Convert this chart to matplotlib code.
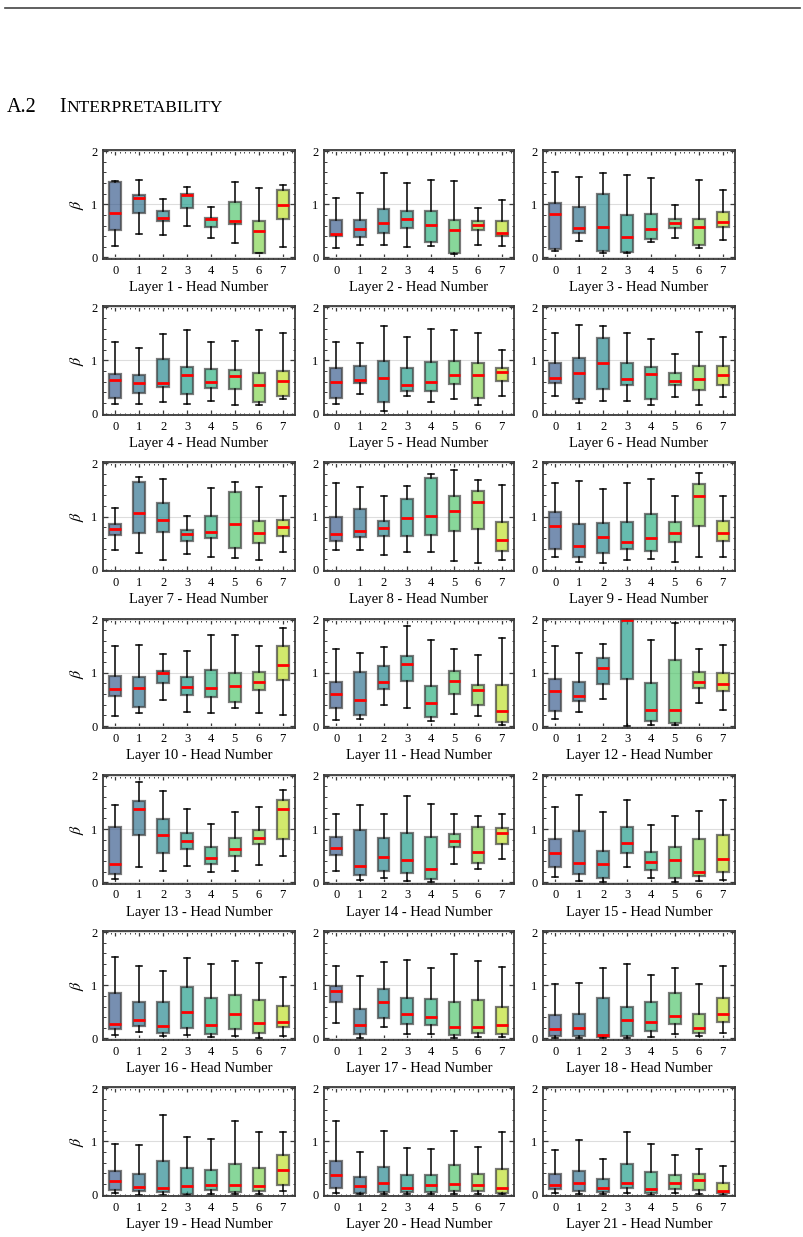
import numpy as np
import matplotlib
matplotlib.use("Agg")
import matplotlib.pyplot as plt
from matplotlib.ticker import MultipleLocator
from matplotlib.lines import Line2D

heads = [0, 1, 2, 3, 4, 5, 6, 7]
layers = list(range(1, 22))

whislo = [
    [0.22, 0.44, 0.43, 0.60, 0.37, 0.28, 0.08, 0.19],
    [0.18, 0.24, 0.23, 0.19, 0.21, 0.06, 0.24, 0.21],
    [0.12, 0.31, 0.09, 0.08, 0.29, 0.36, 0.17, 0.33],
    [0.19, 0.19, 0.21, 0.19, 0.23, 0.16, 0.16, 0.28],
    [0.19, 0.36, 0.04, 0.33, 0.21, 0.27, 0.16, 0.33],
    [0.33, 0.20, 0.24, 0.24, 0.16, 0.31, 0.16, 0.31],
    [0.38, 0.31, 0.19, 0.29, 0.24, 0.23, 0.19, 0.33],
    [0.37, 0.38, 0.27, 0.33, 0.33, 0.16, 0.13, 0.18],
    [0.24, 0.14, 0.13, 0.19, 0.21, 0.15, 0.25, 0.24],
    [0.18, 0.24, 0.48, 0.27, 0.24, 0.34, 0.24, 0.20],
    [0.11, 0.13, 0.39, 0.34, 0.09, 0.22, 0.19, 0.01],
    [0.13, 0.27, 0.51, 0.00, 0.01, 0.01, 0.43, 0.30],
    [0.06, 0.29, 0.21, 0.31, 0.19, 0.22, 0.32, 0.50],
    [0.22, 0.04, 0.07, 0.02, 0.01, 0.35, 0.24, 0.44],
    [0.10, 0.02, 0.00, 0.29, 0.08, 0.01, 0.03, 0.05],
    [0.06, 0.12, 0.04, 0.06, 0.03, 0.05, 0.01, 0.04],
    [0.29, 0.01, 0.22, 0.08, 0.08, 0.01, 0.03, 0.02],
    [0.01, 0.01, 0.00, 0.01, 0.03, 0.09, 0.04, 0.11],
    [0.03, 0.00, 0.00, 0.00, 0.02, 0.01, 0.01, 0.06],
    [0.03, 0.01, 0.01, 0.01, 0.01, 0.01, 0.01, 0.01],
    [0.03, 0.01, 0.01, 0.03, 0.00, 0.03, 0.01, 0.00],
]
q1 = [
    [0.51, 0.83, 0.68, 0.92, 0.57, 0.63, 0.08, 0.73],
    [0.40, 0.38, 0.46, 0.56, 0.29, 0.08, 0.51, 0.40],
    [0.16, 0.46, 0.12, 0.11, 0.34, 0.55, 0.24, 0.58],
    [0.29, 0.38, 0.50, 0.36, 0.48, 0.46, 0.22, 0.33],
    [0.29, 0.57, 0.21, 0.42, 0.42, 0.55, 0.30, 0.62],
    [0.57, 0.27, 0.46, 0.53, 0.27, 0.53, 0.45, 0.53],
    [0.65, 0.69, 0.71, 0.55, 0.59, 0.41, 0.51, 0.64],
    [0.54, 0.61, 0.63, 0.64, 0.65, 0.73, 0.76, 0.35],
    [0.39, 0.24, 0.32, 0.39, 0.36, 0.52, 0.82, 0.55],
    [0.56, 0.36, 0.81, 0.58, 0.55, 0.45, 0.68, 0.87],
    [0.33, 0.20, 0.69, 0.85, 0.17, 0.61, 0.39, 0.08],
    [0.29, 0.47, 0.79, 0.89, 0.10, 0.05, 0.71, 0.66],
    [0.15, 0.88, 0.54, 0.63, 0.35, 0.50, 0.71, 0.82],
    [0.52, 0.14, 0.22, 0.17, 0.06, 0.66, 0.36, 0.72],
    [0.28, 0.15, 0.08, 0.54, 0.23, 0.08, 0.12, 0.20],
    [0.17, 0.24, 0.10, 0.19, 0.08, 0.18, 0.10, 0.22],
    [0.68, 0.09, 0.38, 0.27, 0.25, 0.06, 0.10, 0.08],
    [0.04, 0.04, 0.03, 0.05, 0.14, 0.28, 0.10, 0.31],
    [0.08, 0.07, 0.05, 0.02, 0.08, 0.04, 0.06, 0.18],
    [0.13, 0.03, 0.05, 0.05, 0.05, 0.06, 0.07, 0.03],
    [0.10, 0.07, 0.04, 0.13, 0.03, 0.11, 0.08, 0.03],
]
med = [
    [0.84, 1.12, 0.74, 1.18, 0.73, 0.69, 0.50, 0.99],
    [0.44, 0.53, 0.65, 0.73, 0.61, 0.51, 0.61, 0.45],
    [0.82, 0.55, 0.57, 0.38, 0.54, 0.65, 0.58, 0.66],
    [0.64, 0.57, 0.58, 0.72, 0.60, 0.71, 0.54, 0.61],
    [0.60, 0.64, 0.67, 0.53, 0.60, 0.72, 0.72, 0.78],
    [0.67, 0.76, 0.95, 0.65, 0.75, 0.62, 0.65, 0.72],
    [0.76, 1.06, 0.94, 0.68, 0.71, 0.87, 0.69, 0.80],
    [0.68, 0.73, 0.78, 0.97, 1.02, 1.11, 1.27, 0.56],
    [0.82, 0.45, 0.62, 0.53, 0.60, 0.70, 1.39, 0.69],
    [0.70, 0.71, 0.99, 0.73, 0.71, 0.76, 0.83, 1.14],
    [0.61, 0.49, 0.82, 1.17, 0.44, 0.84, 0.68, 0.28],
    [0.66, 0.57, 1.10, 1.995, 0.31, 0.30, 0.82, 0.79],
    [0.34, 1.38, 0.88, 0.77, 0.46, 0.62, 0.83, 1.38],
    [0.64, 0.31, 0.47, 0.41, 0.24, 0.78, 0.56, 0.93],
    [0.54, 0.36, 0.34, 0.73, 0.38, 0.42, 0.20, 0.43],
    [0.27, 0.34, 0.24, 0.49, 0.26, 0.46, 0.29, 0.31],
    [0.90, 0.25, 0.69, 0.46, 0.40, 0.22, 0.22, 0.25],
    [0.17, 0.20, 0.07, 0.34, 0.30, 0.43, 0.20, 0.45],
    [0.26, 0.15, 0.13, 0.16, 0.18, 0.18, 0.17, 0.47],
    [0.36, 0.17, 0.21, 0.13, 0.18, 0.20, 0.18, 0.13],
    [0.19, 0.22, 0.13, 0.22, 0.11, 0.22, 0.28, 0.06],
]
q3 = [
    [1.41, 1.17, 0.87, 1.19, 0.75, 1.05, 0.69, 1.27],
    [0.70, 0.71, 0.91, 0.88, 0.88, 0.70, 0.68, 0.68],
    [1.03, 0.95, 1.20, 0.80, 0.81, 0.73, 0.72, 0.85],
    [0.75, 0.72, 1.03, 0.87, 0.84, 0.82, 0.76, 0.81],
    [0.86, 0.89, 0.99, 0.86, 0.97, 0.98, 0.96, 0.86],
    [0.95, 1.04, 1.43, 0.96, 0.87, 0.77, 0.89, 0.90],
    [0.87, 1.66, 1.25, 0.75, 1.01, 1.46, 0.92, 0.94],
    [0.99, 1.15, 0.92, 1.34, 1.73, 1.38, 1.48, 0.90],
    [1.09, 0.87, 0.88, 0.89, 1.05, 0.90, 1.61, 0.92],
    [0.94, 0.92, 1.04, 0.92, 1.06, 0.99, 1.02, 1.51],
    [0.83, 1.01, 1.13, 1.32, 0.75, 1.04, 0.78, 0.78],
    [0.88, 0.83, 1.27, 2.00, 0.80, 1.25, 1.02, 1.00],
    [1.04, 1.53, 1.19, 0.93, 0.66, 0.83, 0.99, 1.54],
    [0.85, 0.98, 0.83, 0.92, 0.85, 0.90, 1.04, 1.02],
    [0.82, 0.97, 0.58, 1.04, 0.57, 0.66, 0.82, 0.88],
    [0.85, 0.69, 0.68, 0.96, 0.76, 0.81, 0.72, 0.61],
    [0.99, 0.55, 0.92, 0.76, 0.75, 0.68, 0.73, 0.59],
    [0.44, 0.45, 0.76, 0.59, 0.69, 0.86, 0.46, 0.76],
    [0.44, 0.39, 0.63, 0.50, 0.46, 0.58, 0.50, 0.75],
    [0.63, 0.34, 0.52, 0.37, 0.37, 0.55, 0.39, 0.48],
    [0.39, 0.45, 0.29, 0.57, 0.42, 0.36, 0.38, 0.21],
]
whishi = [
    [1.44, 1.45, 1.09, 1.33, 0.95, 1.42, 1.30, 1.37],
    [1.12, 1.22, 1.59, 1.39, 1.45, 1.44, 0.93, 1.08],
    [1.60, 1.52, 1.59, 1.55, 1.49, 0.98, 1.45, 1.26],
    [1.35, 1.23, 1.50, 1.57, 1.34, 1.37, 1.58, 1.52],
    [1.35, 1.32, 1.64, 1.45, 1.60, 1.57, 1.51, 1.19],
    [1.51, 1.67, 1.64, 1.52, 1.40, 1.13, 1.53, 1.44],
    [1.17, 1.74, 1.70, 1.01, 1.53, 1.66, 1.56, 1.39],
    [1.64, 1.55, 1.38, 1.57, 1.81, 1.87, 1.69, 1.59],
    [1.63, 1.67, 1.52, 1.64, 1.71, 1.38, 1.82, 1.39],
    [1.51, 1.52, 1.36, 1.41, 1.71, 1.72, 1.50, 1.84],
    [1.45, 1.38, 1.49, 1.89, 1.61, 1.45, 1.34, 1.66],
    [1.50, 1.38, 1.54, 2.00, 1.62, 1.94, 1.44, 1.52],
    [1.45, 1.88, 1.71, 1.38, 1.10, 1.32, 1.41, 1.73],
    [1.29, 1.46, 1.29, 1.63, 1.48, 1.29, 1.25, 1.29],
    [1.41, 1.64, 1.32, 1.55, 1.08, 1.24, 1.34, 1.55],
    [1.54, 1.37, 1.27, 1.52, 1.39, 1.46, 1.41, 1.15],
    [1.36, 1.18, 1.43, 1.48, 1.33, 1.58, 1.46, 1.34],
    [1.03, 1.05, 1.33, 1.39, 1.20, 1.32, 1.03, 1.37],
    [0.95, 0.94, 1.50, 1.08, 1.04, 1.38, 1.18, 1.18],
    [1.39, 0.81, 1.20, 0.87, 0.86, 1.20, 0.89, 1.18],
    [0.83, 1.03, 0.67, 1.18, 0.95, 0.74, 0.85, 0.54],
]

plt.rcParams["font.family"] = ["Liberation Serif", "DejaVu Serif"]
plt.rcParams["mathtext.fontset"] = "stix"

W, H = 804, 1237
fig = plt.figure(figsize=(W / 100, H / 100), dpi=100)

col_left = [103, 324, 543]
col_w = [192, 190, 192]
row_top0 = 150
row_step = 156.2
ax_h = 109

base = plt.cm.viridis(np.linspace(0.28, 0.9, 8))
face = [(c[0], c[1], c[2], 0.68) for c in base]
spine_col = "#3a3a3a"

for i, layer in enumerate(layers):
    r, c = divmod(i, 3)
    top = row_top0 + r * row_step
    ax = fig.add_axes([col_left[c] / W, 1 - (top + ax_h) / H, col_w[c] / W, ax_h / H])
    stats = []
    for h in heads:
        stats.append(dict(whislo=whislo[i][h], q1=q1[i][h], med=med[i][h],
                          q3=q3[i][h], whishi=whishi[i][h], fliers=[]))
    bp = ax.bxp(stats, positions=heads, widths=0.5, patch_artist=True,
                showfliers=False,
                boxprops=dict(edgecolor=(0.25, 0.25, 0.25, 0.7), linewidth=1.6),
                whiskerprops=dict(color="black", linewidth=1.1),
                capprops=dict(color="black", linewidth=1.1),
                medianprops=dict(color="red", linewidth=2.0))
    for patch, col in zip(bp["boxes"], face):
        patch.set_facecolor(col)
    ax.set_xlim(-0.52, 7.52)
    ax.set_ylim(-0.03, 2.02)
    ax.set_xticks(heads)
    ax.set_xticklabels([str(h) for h in heads])
    ax.set_yticks([0, 1, 2])
    ax.xaxis.set_minor_locator(MultipleLocator(0.2))
    ax.yaxis.set_minor_locator(MultipleLocator(0.2))
    ax.tick_params(which="both", direction="in", top=True, right=True,
                   color=spine_col, labelsize=9, pad=4)
    ax.tick_params(which="major", length=3.5, width=0.9)
    ax.tick_params(which="minor", length=1.8, width=0.7)
    ax.grid(axis="y", which="major", color="#dddddd", linewidth=0.8)
    ax.set_axisbelow(True)
    for s in ax.spines.values():
        s.set_color(spine_col)
        s.set_linewidth(1.3)
    ax.set_xlabel(f"Layer {layer} - Head Number", fontsize=10.5, labelpad=3)
    if c == 0:
        ax.set_ylabel(r"$\beta$", fontsize=11.5, labelpad=4)

fig.add_artist(Line2D([5 / W, 800 / W], [1 - 8 / H, 1 - 8 / H], color="#444444", linewidth=1.2))
ty = 1 - 112 / H
fig.text(7 / W, ty, "A.2", fontsize=14.5, va="baseline", ha="left")
fig.text(59 / W, ty, "I", fontsize=14.5, va="baseline", ha="left")
fig.text(66.5 / W, ty, "NTERPRETABILITY", fontsize=12.5, va="baseline", ha="left")

fig.savefig("out.png", dpi=100)
